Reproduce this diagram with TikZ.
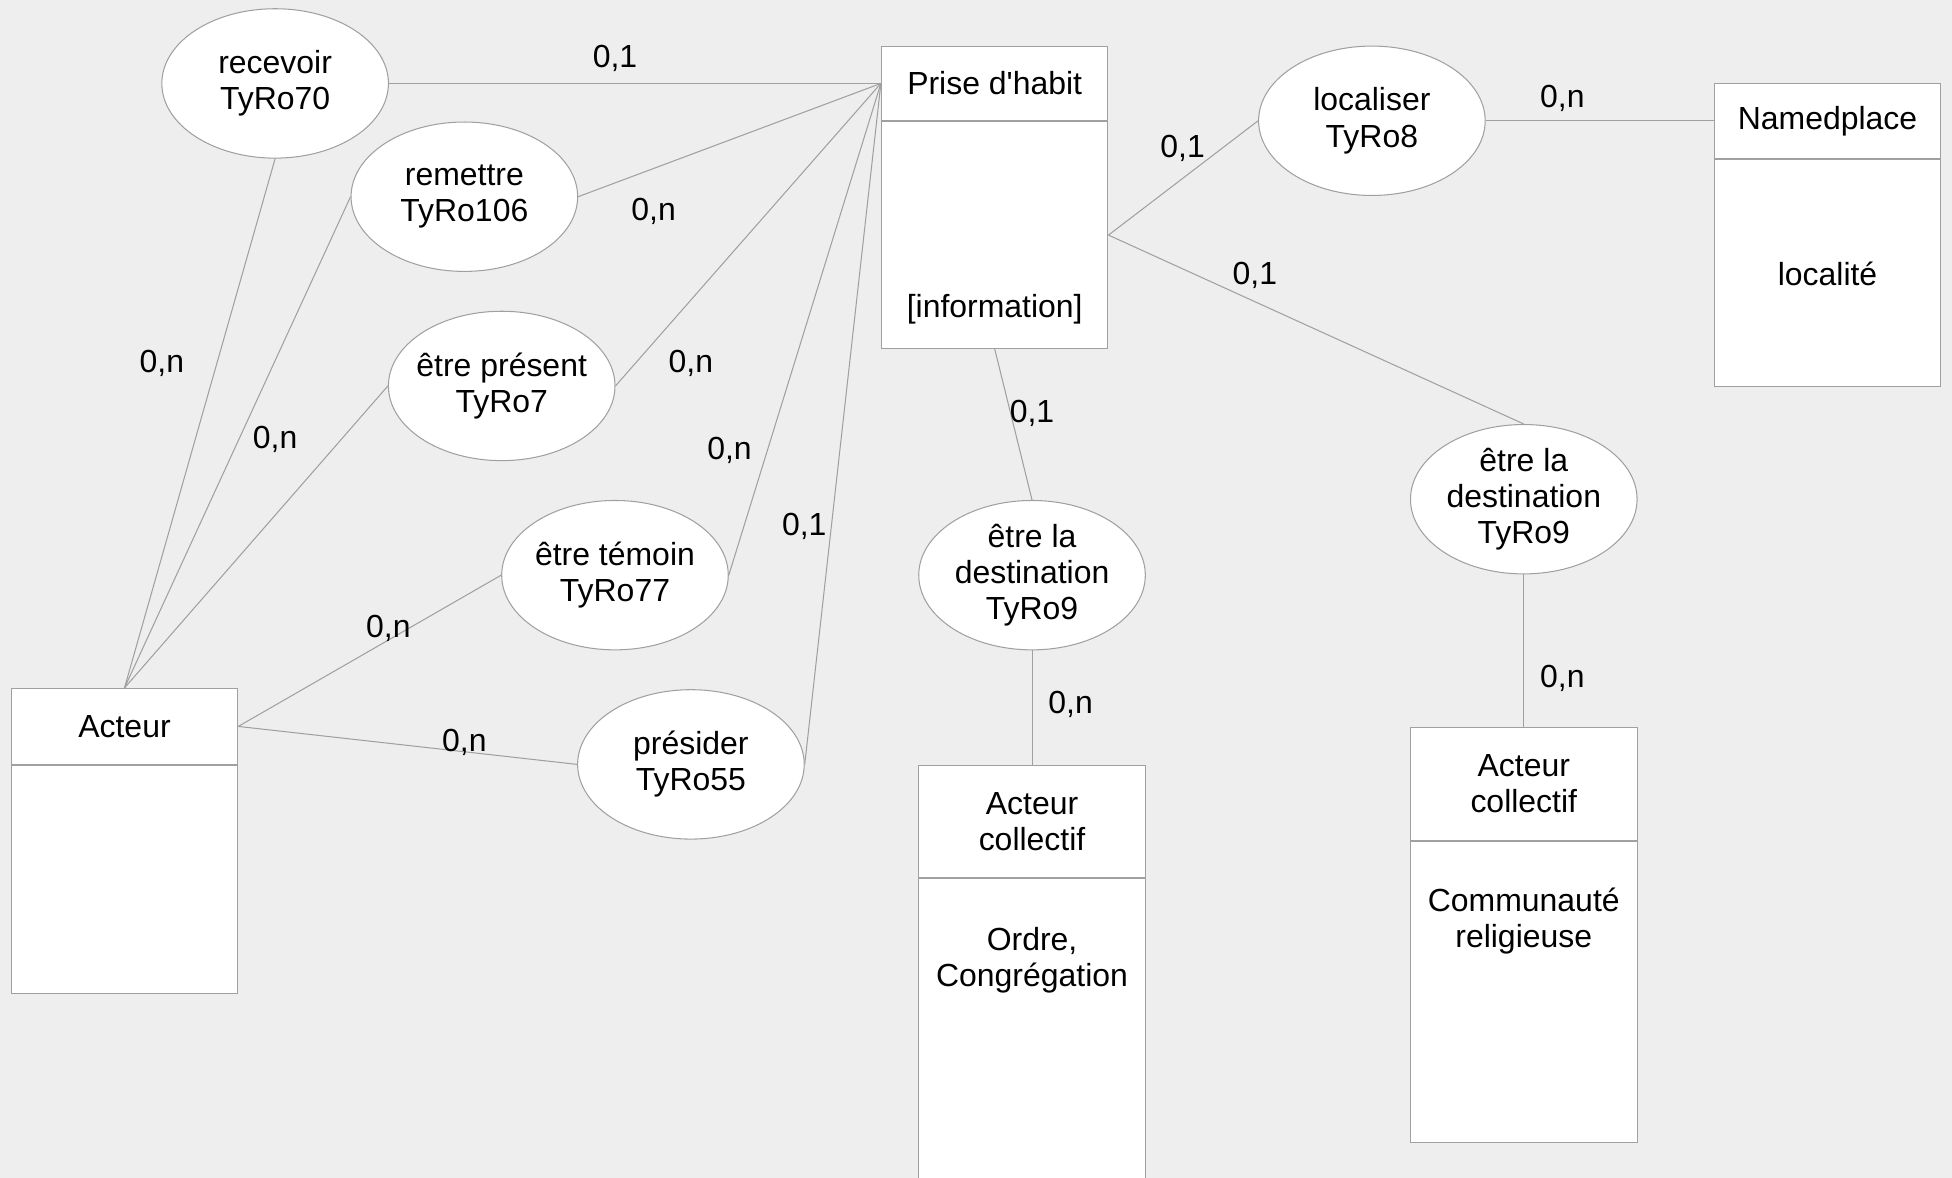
\documentclass[tikz,border=0pt]{standalone}
\usepackage{fontspec}
\setmainfont{Liberation Sans}
\usetikzlibrary{positioning,shapes.geometric}
\definecolor{bggray}{HTML}{EEEEEE}
\definecolor{linegray}{HTML}{A0A0A0}

\begin{document}
\begin{tikzpicture}[x=0.6pt,y=-0.6pt,
	every node/.style={font=\fontsize{15.4}{17.4}\selectfont},
	ent/.style={rectangle, draw=linegray, fill=white, line width=0.5pt, minimum width=109.2pt, inner sep=0pt, align=center},
	rel/.style={ellipse, draw=linegray, fill=white, line width=0.5pt, minimum width=109.2pt, minimum height=72pt, inner xsep=-12pt, inner ysep=-2pt, align=center},
	card/.style={inner sep=0pt},
	attr/.style={inner sep=0pt, align=center},
	link/.style={draw=linegray, line width=0.5pt}]
			\useasboundingbox[fill=bggray] (0,0) rectangle (1568,946);
			% entities
			\node[ent, minimum height=36pt] at (799,67) (prisehead){Prise d\textquotesingle habit};
			\node[ent, minimum height=109.2pt, below=0pt of prisehead] (prisebody){};
			\node[ent, minimum height=36pt] at (1468,97) (placehead){Namedplace};
			\node[ent, minimum height=109.8pt, below=0pt of placehead] (placebody){};
			\node[ent, minimum height=36.6pt] at (100,583.5) (acteurhead){Acteur};
			\node[ent, minimum height=109.8pt, below=0pt of acteurhead] (acteurbody){};
			\node[ent, minimum height=54pt] at (829,660) (colhead){Acteur\\collectif};
			\node[ent, minimum height=150pt, below=0pt of colhead] (colbody){};
			\node[ent, minimum height=54.6pt] at (1224,629.5) (comhead){Acteur\\collectif};
			\node[ent, minimum height=145.2pt, below=0pt of comhead] (combody){};
			\node[attr] at (799,248) (priseattr){[information]};
			\node[attr] at (1468,220) (placeattr){localité};
			\node[attr] at (829,771) (colattr){Ordre,\\Congrégation};
			\node[attr] at (1224,740) (comattr){Communauté\\religieuse};
			% relations
			\node[rel] at (221,67) (recevoir){recevoir\\TyRo70};
			\node[rel] at (373,158) (remettre){remettre\\TyRo106};
			\node[rel] at (403,310) (present){être présent\\TyRo7};
			\node[rel] at (494,462) (temoin){être témoin\\TyRo77};
			\node[rel] at (555,614) (presider){présider\\TyRo55};
			\node[rel] at (1102,97) (localiser){localiser\\TyRo8};
			\node[rel] at (829,462) (destcol){être la\\destination\\TyRo9};
			\node[rel] at (1224,401) (destcom){être la\\destination\\TyRo9};
			% links
			\draw[link] (recevoir.east) -- (prisehead.west);
			\draw[link] (remettre.east) -- (prisehead.west);
			\draw[link] (present.east) -- (prisehead.west);
			\draw[link] (temoin.east) -- (prisehead.west);
			\draw[link] (presider.east) -- (prisehead.west);
			\draw[link] (recevoir.south) -- (acteurhead.north);
			\draw[link] (remettre.west) -- (acteurhead.north);
			\draw[link] (present.west) -- (acteurhead.north);
			\draw[link] (temoin.west) -- (acteurhead.east);
			\draw[link] (presider.west) -- (acteurhead.east);
			\draw[link] (prisebody.east) -- (localiser.west);
			\draw[link] (localiser.east) -- (placehead.west);
			\draw[link] (prisebody.east) -- (destcom.north);
			\draw[link] (prisebody.south) -- (destcol.north);
			\draw[link] (destcol.south) -- (colhead.north);
			\draw[link] (destcom.south) -- (comhead.north);
			% cardinalities
			\node[card] at (494,47) (c1){0,1};
			\node[card] at (525,170) (c2){0,n};
			\node[card] at (555,292) (c3){0,n};
			\node[card] at (586,362) (c4){0,n};
			\node[card] at (646,423) (c5){0,1};
			\node[card] at (130,292) (c6){0,n};
			\node[card] at (221,353) (c7){0,n};
			\node[card] at (312,505) (c8){0,n};
			\node[card] at (373,596) (c9){0,n};
			\node[card] at (950,119) (c10){0,1};
			\node[card] at (1255,79) (c11){0,n};
			\node[card] at (1008,221) (c12){0,1};
			\node[card] at (829,332) (c13){0,1};
			\node[card] at (860,566) (c14){0,n};
			\node[card] at (1255,545) (c15){0,n};
		\end{tikzpicture}
\end{document}
